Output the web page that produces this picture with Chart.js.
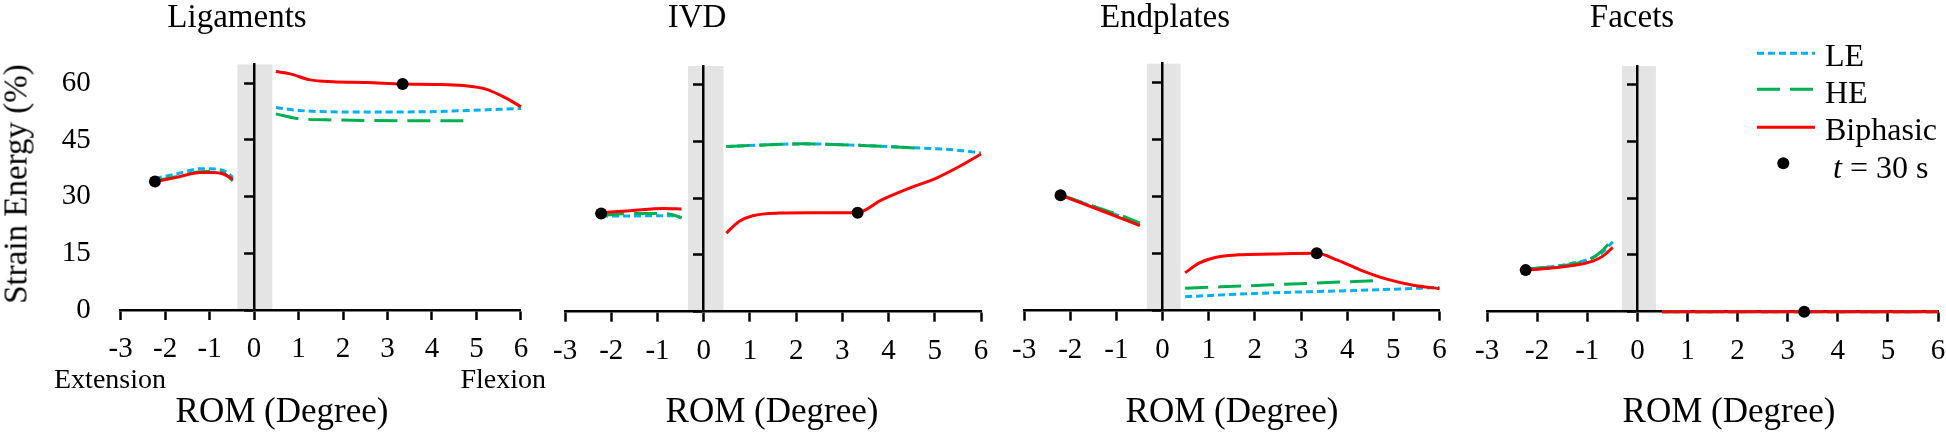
<!DOCTYPE html>
<html>
<head>
<meta charset="utf-8">
<script src="https://cdn.jsdelivr.net/npm/chart.js@4.4.0/dist/chart.umd.min.js"></script>
<style>
  body { margin: 0; width: 1946px; height: 433px; overflow: hidden; position: relative; background: #fff;
         font-family: 'Liberation Serif', 'Times New Roman', serif; color: #000; }
  canvas { position: absolute; top: 0; }
  .t { position: absolute; white-space: nowrap; line-height: 1; }
  .c { transform: translateX(-50%); }
</style>
</head>
<body>
<canvas id="c1" width="541" height="433" style="left:0"></canvas>
<canvas id="c2" width="460" height="433" style="left:540.7px"></canvas>
<canvas id="c3" width="460" height="433" style="left:1000px"></canvas>
<canvas id="c4" width="495" height="433" style="left:1462.7px"></canvas>

<div class="t c" style="left:237px;top:0px;font-size:33px">Ligaments</div>
<div class="t c" style="left:697px;top:0px;font-size:33px">IVD</div>
<div class="t c" style="left:1165px;top:0px;font-size:33px">Endplates</div>
<div class="t c" style="left:1632px;top:0px;font-size:33px">Facets</div>

<div class="t c" style="left:282px;top:393px;font-size:35px">ROM (Degree)</div>
<div class="t c" style="left:772px;top:393px;font-size:35px">ROM (Degree)</div>
<div class="t c" style="left:1232px;top:393px;font-size:35px">ROM (Degree)</div>
<div class="t c" style="left:1729px;top:393px;font-size:35px">ROM (Degree)</div>

<div class="t" style="left:54px;top:365px;font-size:28px">Extension</div>
<div class="t" style="left:546px;top:365px;font-size:28px;transform:translateX(-100%)">Flexion</div>

<div class="t" style="left:16px;top:184px;font-size:33px;transform:translate(-50%,-50%) rotate(-90deg)">Strain Energy (%)</div>

<!-- legend -->
<svg style="position:absolute;left:1750px;top:40px" width="80" height="140">
  <line x1="7" y1="13.3" x2="65" y2="13.3" stroke="#00B0F0" stroke-width="3" stroke-dasharray="7 4"/>
  <line x1="7" y1="49.3" x2="65" y2="49.3" stroke="#00B050" stroke-width="3" stroke-dasharray="23 10"/>
  <line x1="7" y1="87.3" x2="65" y2="87.3" stroke="#FF0000" stroke-width="3"/>
  <circle cx="33.3" cy="123.3" r="6" fill="#000"/>
</svg>
<div class="t" style="left:1825px;top:39px;font-size:32px">LE</div>
<div class="t" style="left:1825px;top:76px;font-size:32px">HE</div>
<div class="t" style="left:1825px;top:113px;font-size:32px">Biphasic</div>
<div class="t" style="left:1833px;top:151px;font-size:32px"><i>t</i> = 30 s</div>

<script>
// values: [ROM (deg), strain energy (%)], null = gap at 0
const ligamentsLE = [[-2.23, 34.8], [-1.75, 36.0], [-1.2, 37.4], [-0.85, 37.3], [-0.62, 36.5], [-0.48, 35.1], null,
  [0.49, 53.6], [1.0, 52.8], [2.5, 52.4], [4.0, 52.5], [4.8, 52.8], [5.5, 53.1], [6.0, 53.3]];
const ligamentsHE = [[-2.23, 34.2], [-1.75, 35.3], [-1.2, 36.6], [-0.9, 36.7], [-0.68, 36.2], [-0.48, 34.2], null,
  [0.49, 51.9], [0.96, 50.7], [1.8, 50.3], [3.3, 50.1], [4.74, 50.1]];
const ligamentsBi = [[-2.23, 34.0], [-1.74, 35.1], [-1.21, 36.4], [-0.92, 36.4], [-0.69, 36.0], [-0.48, 34.6], null,
  [0.49, 63.1], [0.81, 62.5], [1.26, 60.9], [1.78, 60.4], [2.53, 60.2], [3.34, 59.8], [4.03, 59.7], [4.71, 59.4],
  [5.23, 58.4], [5.68, 56.0], [6.0, 53.8]];
const ligamentsDots = [[-2.23, 34.0], [3.34, 59.8]];

const ivdLE = [[-2.22, 25.3], [-1.6, 25.3], [-1.0, 25.4], [-0.7, 25.4], [-0.48, 24.9], null,
  [0.49, 43.7], [1.27, 44.1], [2.13, 44.4], [3.41, 44.0], [4.48, 43.4], [5.2, 43.0], [5.6, 42.6], [6.0, 42.0]];
const ivdHE = [[-2.22, 25.5], [-1.44, 26.0], [-0.87, 26.0], [-0.65, 25.6], [-0.48, 24.8], null,
  [0.49, 43.7], [1.3, 44.1], [2.13, 44.4], [3.41, 44.0], [4.56, 43.3]];
const ivdBi = [[-2.22, 26.2], [-1.59, 26.7], [-0.87, 27.3], [-0.48, 27.2], null,
  [0.49, 20.8], [0.77, 23.9], [1.06, 25.4], [1.63, 26.1], [2.34, 26.2], [3.33, 26.2], [3.84, 29.5], [4.48, 32.8],
  [5.06, 35.5], [5.56, 38.6], [6.0, 41.7]];
const ivdDots = [[-2.22, 26.0], [3.33, 26.2]];

const endplatesLE = [[-2.21, 30.4], [-1.36, 26.8], [-0.49, 23.0], null,
  [0.49, 3.7], [2.36, 4.7], [4.14, 5.3], [6.0, 6.1]];
const endplatesHE = [[-2.21, 30.5], [-1.36, 26.9], [-0.8, 24.6], [-0.49, 23.0], null,
  [0.49, 5.9], [2.36, 6.8], [4.57, 7.9]];
const endplatesBi = [[-2.21, 30.4], [-1.36, 26.5], [-0.49, 22.4], null,
  [0.49, 10.0], [0.79, 12.5], [1.14, 14.0], [1.64, 14.7], [2.36, 14.9], [3.34, 15.1], [3.79, 13.3], [4.29, 10.7],
  [4.86, 8.3], [5.43, 6.7], [6.0, 5.8]];
const endplatesDots = [[-2.21, 30.4], [3.34, 15.1]];

const facetsLE = [[-2.23, 11.2], [-1.42, 12.5], [-0.89, 14.3], [-0.69, 15.8], [-0.49, 18.5], null,
  [0.49, 0], [6.0, 0]];
const facetsHE = [[-2.23, 11.3], [-1.75, 11.8], [-1.29, 12.6], [-0.89, 14.3], [-0.69, 16.3], [-0.49, 19.2], null,
  [0.49, 0], [6.0, 0]];
const facetsBi = [[-2.23, 11.0], [-1.75, 11.5], [-1.29, 12.2], [-0.89, 13.4], [-0.69, 14.7], [-0.49, 17.0], null,
  [0.49, 0], [6.0, 0]];
const facetsDots = [[-2.23, 11.0], [3.33, 0]];

// shaded band around 0 (ROM units) per panel
const ligamentsBand = [-0.375, 0.41];
const ivdBand = [-0.34, 0.43];
const endplatesBand = [-0.34, 0.39];
const facetsBand = [-0.31, 0.37];

const xTicksMin = -3, xTicksMax = 6, xStep = 1;
const yMin = 0, yMax = 65, yStep = 15;

const serif = "'Liberation Serif', 'Times New Roman', serif";
const toPts = arr => arr.map(p => p ? { x: p[0], y: p[1] } : { x: 0, y: null });

const bandPlugin = {
  id: 'band',
  beforeDraw(chart, args, opts) {
    const { ctx, scales: { x, y } } = chart;
    const l = x.getPixelForValue(opts.range[0]);
    const r = x.getPixelForValue(opts.range[1]);
    const t = y.getPixelForValue(yMax);
    const b = y.getPixelForValue(yMin);
    ctx.save();
    ctx.fillStyle = '#e4e4e4';
    ctx.fillRect(l, t, r - l, b - t);
    ctx.restore();
  }
};

function lineSet(label, data, color, dash) {
  return {
    label, data: toPts(data), yAxisID: 'y',
    borderColor: color, borderWidth: 3, borderDash: dash, borderCapStyle: 'butt',
    pointRadius: 0, cubicInterpolationMode: 'monotone', spanGaps: false, clip: false, fill: false
  };
}

function makePanel(p) {
  const scales = {
    x: {
      type: 'linear', min: xTicksMin, max: xTicksMax,
      afterFit: s => { s.height = 433 - p.bottom; },
      ticks: { stepSize: xStep, color: '#000', font: { family: serif, size: 29 }, padding: 12,
               maxRotation: 0, autoSkip: false },
      grid: { drawOnChartArea: false, drawTicks: true, tickLength: 10, tickWidth: 2.5, tickColor: '#000' },
      border: { color: '#000', width: 2.5 }
    },
    y: {
      type: 'linear', min: yMin, max: yMax, position: { x: 0 },
      ticks: { stepSize: yStep, includeBounds: false, display: false },
      grid: { drawOnChartArea: false, drawTicks: true, tickLength: 9, tickWidth: 2.5, tickColor: '#000' },
      border: { color: '#000', width: 2.5 }
    }
  };
  if (p.yLabels) {
    scales.yl = {
      type: 'linear', position: 'left', min: yMin, max: yMax,
      afterFit: s => { s.width = p.labelW; },
      ticks: { stepSize: yStep, includeBounds: false, color: '#000', font: { family: serif, size: 29 }, padding: 30 },
      grid: { display: false, drawTicks: false },
      border: { display: false }
    };
  }
  new Chart(document.getElementById(p.id), {
    type: 'line',
    data: {
      datasets: [
        { label: 't = 30 s', data: toPts(p.dots), yAxisID: 'y', showLine: false, pointRadius: 6,
          pointBackgroundColor: '#000', pointBorderWidth: 0, clip: false },
        lineSet('Biphasic', p.bi, '#FF0000', []),
        lineSet('HE', p.he, '#00B050', [23, 10]),
        lineSet('LE', p.le, '#00B0F0', [7, 4])
      ]
    },
    options: {
      responsive: false, animation: false, devicePixelRatio: 1,
      layout: { padding: { left: p.padL, right: p.padR, top: p.top, bottom: 0 } },
      scales,
      plugins: { legend: { display: false }, tooltip: { enabled: false }, band: { range: p.band } }
    },
    plugins: [bandPlugin]
  });
}

makePanel({ id: 'c1', le: ligamentsLE, he: ligamentsHE, bi: ligamentsBi, dots: ligamentsDots, band: ligamentsBand,
  yLabels: true, labelW: 120.7, padL: 0, padR: 20.1, top: 64.4, bottom: 310 });
makePanel({ id: 'c2', le: ivdLE, he: ivdHE, bi: ivdBi, dots: ivdDots, band: ivdBand,
  padL: 20, padR: 20, top: 66, bottom: 311.7 });
makePanel({ id: 'c3', le: endplatesLE, he: endplatesHE, bi: endplatesBi, dots: endplatesDots, band: endplatesBand,
  padL: 20, padR: 20.5, top: 63.7, bottom: 310.7 });
makePanel({ id: 'c4', le: facetsLE, he: facetsHE, bi: facetsBi, dots: facetsDots, band: facetsBand,
  padL: 20, padR: 20, top: 66, bottom: 311.7 });
</script>
</body>
</html>
